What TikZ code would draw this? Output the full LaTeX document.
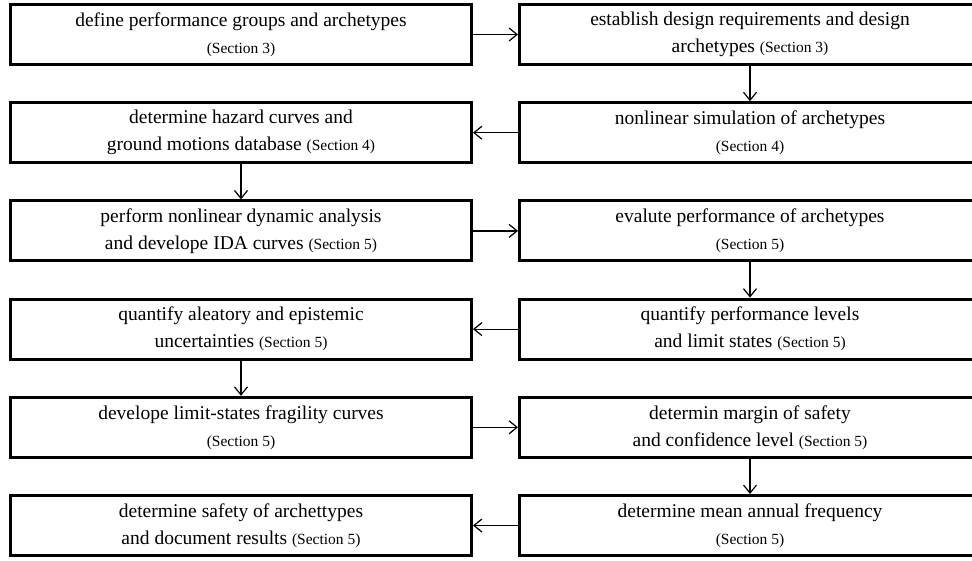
\documentclass[tikz,border=0pt]{standalone}
\usepackage{fontspec}
\setmainfont{Liberation Serif}
\usetikzlibrary{arrows.meta}
\newcommand{\secnote}[1]{{\fontsize{15.5}{15.5}\selectfont(Section #1)}}

\begin{document}
\begin{tikzpicture}[x=1pt,y=-1pt,line width=1.2pt,-{Straight Barb[length=8pt,width=13pt]},
	box/.style={draw,line width=3pt,minimum width=461pt,minimum height=60pt,
		inner sep=0pt,align=center,font=\fontsize{19.5}{27}\selectfont}]
	\clip (0,0) rectangle (972,560);

	\node[box] (L1) at (241,34.5) {define performance groups and archetypes\\\secnote{3}};
	\node[box] (R1) at (750,34.5) {establish design requirements and design\\archetypes \secnote{3}};
	\node[box] (L2) at (241,132.7) {determine hazard curves and\\ground motions database \secnote{4}};
	\node[box] (R2) at (750,132.7) {nonlinear simulation of archetypes\\\secnote{4}};
	\node[box] (L3) at (241,230.9) {perform nonlinear dynamic analysis\\and develope IDA curves \secnote{5}};
	\node[box] (R3) at (750,230.9) {evalute performance of archetypes\\\secnote{5}};
	\node[box] (L4) at (241,329.1) {quantify aleatory and epistemic\\uncertainties \secnote{5}};
	\node[box] (R4) at (750,329.1) {quantify performance levels\\and limit states \secnote{5}};
	\node[box] (L5) at (241,427.3) {develope limit-states fragility curves\\\secnote{5}};
	\node[box] (R5) at (750,427.3) {determin margin of safety\\and confidence level \secnote{5}};
	\node[box] (L6) at (241,525.5) {determine safety of archettypes\\and document results \secnote{5}};
	\node[box] (R6) at (750,525.5) {determine mean annual frequency\\\secnote{5}};

	\draw (L1) to (R1);
	\draw (R1) to (R2);
	\draw (R2) to (L2);
	\draw (L2) to (L3);
	\draw (L3) to (R3);
	\draw (R3) to (R4);
	\draw (R4) to (L4);
	\draw (L4) to (L5);
	\draw (L5) to (R5);
	\draw (R5) to (R6);
	\draw (R6) to (L6);
\end{tikzpicture}
\end{document}
